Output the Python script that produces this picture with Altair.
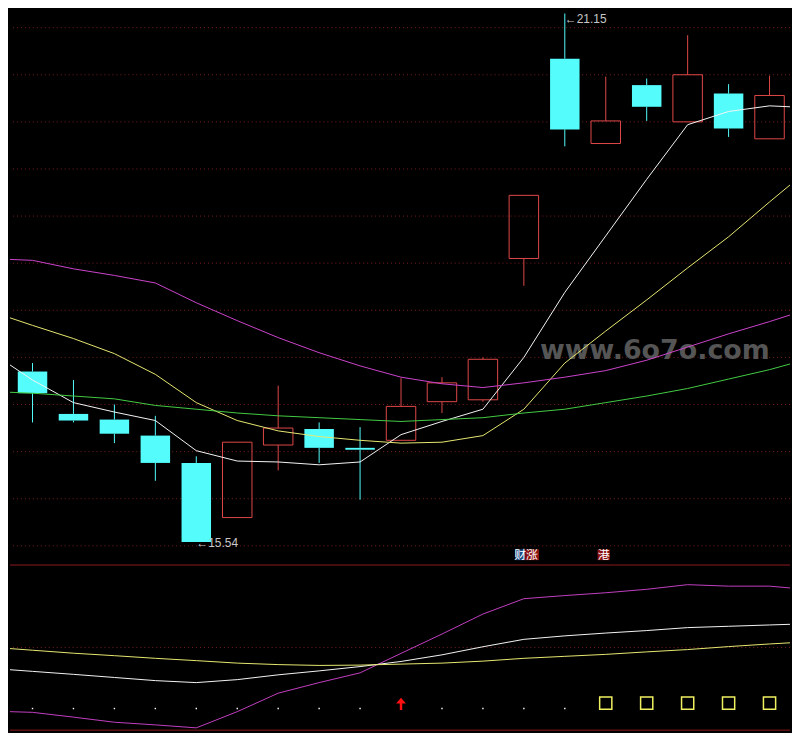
import altair as alt
import pandas as pd

# ---------------- data ----------------
days   = list(range(19))
opens  = [17.35, 16.90, 16.84, 16.67, 16.38, 15.80, 16.57, 16.74, 16.54, 16.62,
          17.03, 17.05, 18.55, 20.67, 19.77, 20.39, 20.00, 20.30, 19.82]
highs  = [17.44, 17.26, 17.00, 16.88, 16.45, 16.60, 17.20, 16.81, 16.76, 17.28,
          17.29, 17.50, 19.22, 21.15, 20.48, 20.46, 20.92, 20.40, 20.49]
lows   = [16.81, 16.81, 16.59, 16.19, 15.54, 15.80, 16.30, 16.38, 15.99, 16.62,
          16.91, 17.03, 18.26, 19.74, 19.77, 20.01, 20.00, 19.84, 19.82]
closes = [17.12, 16.83, 16.69, 16.38, 15.54, 16.60, 16.75, 16.54, 16.52, 16.98,
          17.23, 17.48, 19.22, 19.92, 20.01, 20.16, 20.50, 19.93, 20.28]

# moving averages (first / last value = value at the left / right screen edge)
line_x = [-0.55] + days + [18.5]
ma5  = [17.42, 17.26, 17.02, 16.92, 16.83, 16.51, 16.40, 16.39, 16.36, 16.39, 16.68,
        16.82, 16.95, 17.50, 18.19, 18.79, 19.39, 19.97, 20.11, 20.17, 20.16]
ma10 = [17.92, 17.84, 17.70, 17.54, 17.32, 17.02, 16.83, 16.72, 16.66, 16.62, 16.59,
        16.60, 16.67, 16.95, 17.44, 17.78, 18.11, 18.45, 18.78, 19.15, 19.33]
ma20 = [18.54, 18.53, 18.44, 18.37, 18.29, 18.08, 17.89, 17.71, 17.55, 17.41, 17.29,
        17.22, 17.18, 17.23, 17.29, 17.36, 17.47, 17.61, 17.75, 17.88, 17.95]
ma60 = [17.13, 17.12, 17.09, 17.06, 16.99, 16.95, 16.91, 16.88, 16.86, 16.84, 16.82,
        16.84, 16.86, 16.91, 16.95, 17.02, 17.09, 17.17, 17.27, 17.37, 17.43]

# lower indicator panel
ind_a = [11.2, 10.8, 7.9, 4.8, 3.2, 1.4, 11.2, 22.4, 28.8, 34.7, 46.5,
         58.2, 70.3, 79.6, 81.5, 83.2, 85.3, 88.1, 87.2, 87.2, 86.1]
ind_b = [36.6, 35.6, 33.8, 31.9, 30.0, 28.8, 30.6, 33.5, 35.9, 38.5, 41.6,
         45.6, 50.5, 55.0, 57.1, 58.8, 60.3, 62.1, 62.9, 63.7, 64.1]
ind_c = [49.4, 48.4, 46.6, 45.1, 43.5, 42.1, 40.6, 39.7, 39.2, 39.4, 40.0,
         40.6, 41.8, 43.5, 44.7, 45.9, 47.4, 48.8, 50.6, 52.2, 52.9]

dot_days = [0, 1, 2, 3, 4, 5, 6, 7, 8, 10, 11, 12, 13]
dot_level = 13.1
arrow_days = [9]
arrow_level = 15.9
box_days = [14, 15, 16, 17, 18]
box_level = 16.4

grid_prices = [15.5, 16.0, 16.5, 17.0, 17.5, 18.0, 18.5, 19.0, 19.5, 20.0, 20.5, 21.0]
lower_grid = [50]

label_days = [13, 4]
label_prices = [21.09, 15.53]
label_texts = ["\u219021.15", "\u219015.54"]

tag_texts = ["财", "涨", "港"]
tag_x0 = [11.79, 12.03, 13.80]
tag_x1 = [12.03, 12.37, 14.10]
tag_bg = ["#1f4e86", "#8b1010", "#8b1010"]
tag_y0, tag_y1 = 15.348, 15.462

watermark_text = ["www.6o7o.com"]
watermark_pos = [15.2, 17.57]

# ---------------- styles ----------------
RED = "#e04848"
CYAN = "#54fcfc"
GRID = "#7a1e1e"
MA_COLORS = ["#f4f4f4", "#e8e872", "#cc44cc", "#44cc44"]
IND_COLORS = ["#c23fc2", "#f4f4f4", "#e8e872"]
W, H_TOP, H_BOT = 784, 557, 167

xs = alt.Scale(domain=[-0.55, 18.5], nice=False, zero=False)
ys = alt.Scale(domain=[15.307, 21.189], nice=False, zero=False)
vs = alt.Scale(domain=[-0.6, 100], nice=False, zero=False)

# ---------------- frames ----------------
cd = pd.DataFrame({"d": days, "o": opens, "h": highs, "l": lows, "c": closes})
cd["top"] = cd[["o", "c"]].max(axis=1)
cd["bot"] = cd[["o", "c"]].min(axis=1)
cd["xl"] = cd["d"] - 0.36
cd["xr"] = cd["d"] + 0.36
cd["up"] = cd["c"] > cd["o"]
cd["col"] = [RED if u else CYAN for u in cd["up"]]

n = len(line_x)
ma = pd.DataFrame({"d": line_x * 4,
                   "v": ma5 + ma10 + ma20 + ma60,
                   "k": sum([[c] * n for c in MA_COLORS], [])})
ind = pd.DataFrame({"d": line_x * 3,
                    "v": ind_a + ind_b + ind_c,
                    "k": sum([[c] * n for c in IND_COLORS], [])})

X = lambda f: alt.X(f, type="quantitative", scale=xs, axis=None)
Y = lambda f: alt.Y(f, type="quantitative", scale=ys, axis=None)
V = lambda f: alt.Y(f, type="quantitative", scale=vs, axis=None)
COL = lambda f: alt.Color(f, type="nominal", scale=None)

grid = alt.Chart(pd.DataFrame({"p": grid_prices})).mark_rule(
    color=GRID, strokeDash=[1, 3], strokeWidth=1).encode(y=Y("p"))

wm = alt.Chart(pd.DataFrame({"d": [watermark_pos[0]], "p": [watermark_pos[1]], "t": watermark_text})).mark_text(
    font="DejaVu Sans", fontWeight="bold", fontSize=27, color="#555555", align="center", baseline="middle"
).encode(x=X("d"), y=Y("p"), text="t:N")

wick_hi = alt.Chart(cd).mark_rule(strokeWidth=1).encode(x=X("d"), y=Y("h"), y2="top", color=COL("col"))
wick_lo = alt.Chart(cd).mark_rule(strokeWidth=1).encode(x=X("d"), y=Y("bot"), y2="l", color=COL("col"))
body_up = alt.Chart(cd).transform_filter("datum.up").mark_rect(
    fillOpacity=0, stroke=RED, strokeWidth=1).encode(x=X("xl"), x2="xr", y=Y("top"), y2="bot")
body_dn = alt.Chart(cd).transform_filter("!datum.up").mark_rect(
    color=CYAN).encode(x=X("xl"), x2="xr", y=Y("top"), y2="bot")

ma_lines = alt.Chart(ma).mark_line(strokeWidth=1).encode(
    x=X("d"), y=Y("v"), detail="k:N", color=COL("k"))

labels = alt.Chart(pd.DataFrame({"d": label_days, "p": label_prices, "t": label_texts})).mark_text(
    font="Liberation Sans", fontSize=12, color="#c8c8c8", align="left", baseline="middle"
).encode(x=X("d"), y=Y("p"), text="t:N")

tags_df = pd.DataFrame({"x0": tag_x0, "x1": tag_x1, "t": tag_texts, "bg": tag_bg,
                        "y0": [tag_y0] * 3, "y1": [tag_y1] * 3})
tags_df["xm"] = (tags_df["x0"] + tags_df["x1"]) / 2
tags_df["ym"] = (tags_df["y0"] + tags_df["y1"]) / 2
tag_rect = alt.Chart(tags_df).mark_rect().encode(
    x=X("x0"), x2="x1", y=Y("y0"), y2="y1", color=COL("bg"))
tag_txt = alt.Chart(tags_df).mark_text(
    font="Noto Sans CJK SC", fontSize=12, color="#ffffff", align="center", baseline="middle"
).encode(x=X("xm"), y=Y("ym"), text="t:N")

top = alt.layer(grid, wm, wick_hi, wick_lo, body_up, body_dn, ma_lines, labels, tag_rect, tag_txt
                ).properties(width=W, height=H_TOP)

# ---------------- lower panel ----------------
sep = alt.Chart(pd.DataFrame({"v": [100, 0]})).mark_rule(color="#8b1a1a", strokeWidth=1).encode(y=V("v"))
lgrid = alt.Chart(pd.DataFrame({"v": lower_grid})).mark_rule(
    color=GRID, strokeDash=[1, 3], strokeWidth=1).encode(y=V("v"))
ind_lines = alt.Chart(ind).mark_line(strokeWidth=1).encode(
    x=X("d"), y=V("v"), detail="k:N", color=COL("k"))
dots = alt.Chart(pd.DataFrame({"d": dot_days, "v": [dot_level] * len(dot_days)})).mark_square(
    size=2, color="#ffffff", opacity=1).encode(x=X("d"), y=V("v"))
ARROW = "M0,-1 L0.8,-0.05 L0.2,-0.05 L0.2,1 L-0.2,1 L-0.2,-0.05 L-0.8,-0.05 Z"
arrow = alt.Chart(pd.DataFrame({"d": arrow_days, "v": [arrow_level]})).mark_point(
    shape=ARROW, size=153, filled=True, color="#ff1010", opacity=1).encode(x=X("d"), y=V("v"))
boxes = alt.Chart(pd.DataFrame({"d": box_days, "v": [box_level] * len(box_days)})).mark_point(
    shape="square", size=150, filled=False, color="#f0f060", strokeWidth=1.5, opacity=1
).encode(x=X("d"), y=V("v"))

bottom = alt.layer(lgrid, ind_lines, dots, arrow, boxes, sep).properties(width=W, height=H_BOT)

chart = alt.vconcat(top, bottom, spacing=0).resolve_scale(
    x="independent", y="independent", color="independent"
).properties(background="#000000", padding=0).configure_view(strokeWidth=0)

chart.save("out.html", embed_options={"renderer": "svg", "actions": False})
